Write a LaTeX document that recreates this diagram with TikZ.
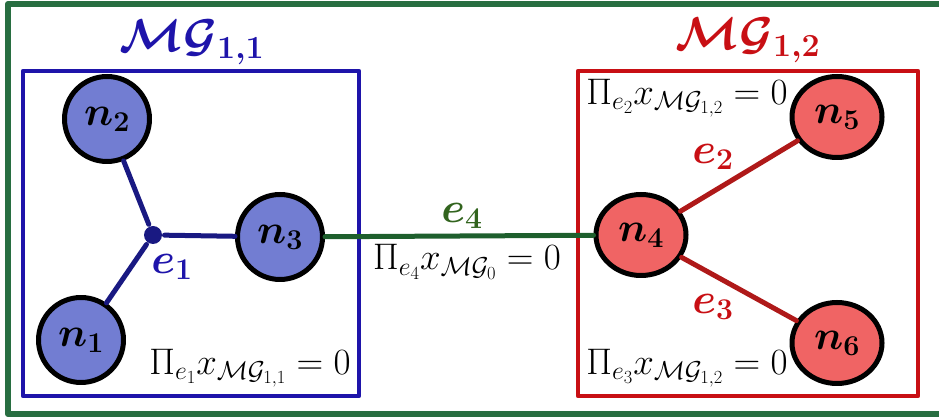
\documentclass[tikz,border=0pt]{standalone}
\usepackage{fix-cm}
\usepackage{amsmath,bm}
\usetikzlibrary{shapes.geometric}
\definecolor{bfill}{RGB}{114,125,210}
\definecolor{bframe}{RGB}{30,20,170}
\definecolor{bline}{RGB}{25,25,130}
\definecolor{rfill}{RGB}{240,100,100}
\definecolor{rframe}{RGB}{200,15,20}
\definecolor{rline}{RGB}{175,25,25}
\definecolor{gframe}{RGB}{40,110,65}
\definecolor{gline}{RGB}{30,95,45}
\definecolor{glabel}{RGB}{50,100,30}
\begin{document}
\begin{tikzpicture}[x=1pt,y=1pt,line width=5pt,
  line cap=round,line join=round,font=\fontsize{37}{40}\selectfont,
  bnode/.style={circle,draw=black,fill=bfill,minimum size=85pt,
    inner sep=0pt,font=\fontsize{41}{44}\selectfont},
  rnode/.style={ellipse,draw=black,fill=rfill,minimum width=90pt,
    minimum height=81pt,inner sep=0pt,font=\fontsize{41}{44}\selectfont},
  elabel/.style={font=\fontsize{43}{46}\selectfont},
  title/.style={font=\fontsize{46}{50}\selectfont}]
  \useasboundingbox (0,0) rectangle (939,417);
  % frames
  \draw[gframe,line width=6pt] (8,3) rectangle (960,413);
  \draw[bframe,line width=4.5pt] (23,21) rectangle (359,346);
  \draw[rframe,line width=4.5pt] (578,21) rectangle (918,346);
  \node[title,text=bframe] (tb) at (192,375) {$\bm{\mathcal{M}\mathcal{G}_{1,1}}$};
  \node[title,text=rframe] (tr) at (748,377) {$\bm{\mathcal{M}\mathcal{G}_{1,2}}$};
  % nodes
  \node[bnode] (n1) at (81,77) {$\bm{n_1}$};
  \node[bnode] (n2) at (107,298) {$\bm{n_2}$};
  \node[bnode] (n3) at (280,180) {$\bm{n_3}$};
  \node[circle,fill=bline,minimum size=18pt,inner sep=0pt] (j1) at (153,182) {};
  \node[rnode] (n4) at (641,182) {$\bm{n_4}$};
  \node[rnode] (n5) at (837,300) {$\bm{n_5}$};
  \node[rnode] (n6) at (837,74) {$\bm{n_6}$};
  % edges
  \draw[bline] (n2) -- (j1) -- (n3);
  \draw[bline] (j1) -- (n1);
  \draw[gline] (n3) -- (n4);
  \draw[rline] (n4) -- (n5);
  \draw[rline] (n4) -- (n6);
  % labels
  \node[elabel,text=bframe] (le1) at (172,150) {$\bm{e_1}$};
  \node[elabel,text=glabel] (le4) at (462,201) {$\bm{e_4}$};
  \node[elabel,text=rframe] (le2) at (713,260) {$\bm{e_2}$};
  \node[elabel,text=rframe] (le3) at (713,110) {$\bm{e_3}$};
  \node (p4) at (467,155) {$\Pi_{e_4}x_{\mathcal{M}\mathcal{G}_0}=0$};
  \node (p1) at (250,49) {$\Pi_{e_1}x_{\mathcal{M}\mathcal{G}_{1,1}}=0$};
  \node (p2) at (687,319) {$\Pi_{e_2}x_{\mathcal{M}\mathcal{G}_{1,2}}=0$};
  \node (p3) at (687,49) {$\Pi_{e_3}x_{\mathcal{M}\mathcal{G}_{1,2}}=0$};
\end{tikzpicture}
\end{document}
